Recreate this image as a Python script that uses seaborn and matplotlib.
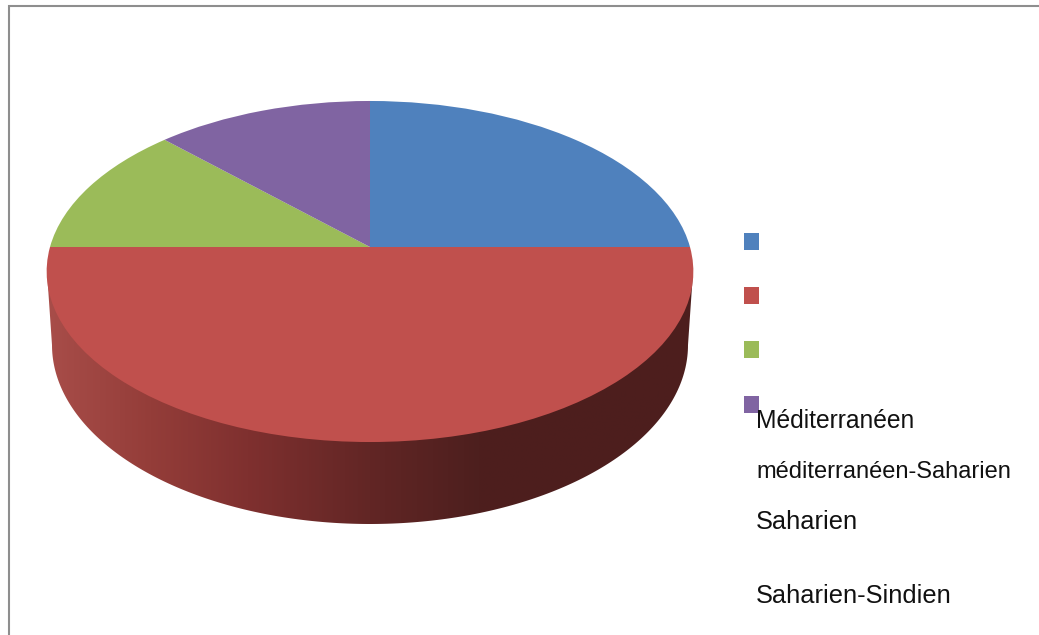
import numpy as np
import matplotlib
matplotlib.use("Agg")
import matplotlib.pyplot as plt
import seaborn as sns
from matplotlib.colors import LinearSegmentedColormap
from matplotlib.patches import Polygon, Rectangle
from matplotlib.transforms import Transform

# Data
labels = ["Méditerranéen", "méditerranéen-Saharien", "Saharien", "Saharien-Sindien"]
values = [25, 50, 12.5, 12.5]
palette = ["#4F81BD", "#C0504D", "#9BBB59", "#8064A2"]

# Styling of each text, wall shading
label_sizes = [17.7, 17.0, 18.3, 18.3]
label_baselines = [428, 478, 529, 603]
swatch_tops = [233, 287, 341, 396]
wall_stops = [(0.0, "#A84D49"), (0.16, "#943D39"), (0.31, "#7F302F"),
              (0.5, "#622625"), (0.67, "#4D1F1E"), (1.0, "#4D1E1D")]

sns.set_theme(style="white")
plt.rcParams["font.family"] = ["Liberation Sans", "DejaVu Sans"]

W, H = 1039, 635
fig = plt.figure(figsize=(W / 100, H / 100), dpi=100, facecolor="white")
ax = fig.add_axes([0, 0, 1, 1])


class Tilt(Transform):
    """Perspective view of the unit pie, in pixel coordinates of the axes."""
    input_dims = output_dims = 2
    is_separable = False

    def __init__(self, cx, cy, r, a, b):
        super().__init__()
        self.cx, self.cy, self.r, self.a, self.b = cx, cy, r, a, b

    def transform_non_affine(self, xy):
        xy = np.asarray(xy, dtype=float)
        d = 1 + self.a * xy[:, 1]
        return np.column_stack([self.cx + self.r * xy[:, 0] / d,
                                self.cy - self.b * xy[:, 1] / d])


# Wall of the disc
cx = 370
t = np.linspace(np.pi, 0, 200)
floor_x = cx + 318 * np.cos(t)
floor_y = 345 + 179 * np.sin(t)
wall_xy = np.vstack([[[47, 272]], np.column_stack([floor_x, floor_y]), [[693, 272]]])
wall = Polygon(wall_xy, closed=True, fc="none", ec="none", transform=ax.transData)
ax.add_patch(wall)
cmap = LinearSegmentedColormap.from_list("wall", wall_stops)
img = ax.imshow(np.linspace(0, 1, 512)[None, :], cmap=cmap, extent=(47, 693, 530, 260),
                aspect="auto", zorder=1, interpolation="bilinear")
img.set_clip_path(wall)

# Top face
wedges, _ = ax.pie(values, colors=palette, startangle=90, counterclock=False,
                   radius=1, center=(0, 0), wedgeprops={"linewidth": 0})
tilt = Tilt(cx, 247, 320, 49 / 341, 167)
for w in wedges:
    w.set_transform(tilt + ax.transData)
    w.set_zorder(2)
    w.set_clip_on(False)

ax.set_aspect("auto")
ax.set_xlim(0, W)
ax.set_ylim(H, 0)
ax.axis("off")

# Chart frame
ax.plot([9, 9, W], [H, 6, 6], color="#8E8E8E", lw=1.5, zorder=3, solid_joinstyle="miter")

# Legend
for top, colour in zip(swatch_tops, palette):
    ax.add_patch(Rectangle((744, top), 15, 17, fc=colour, ec="none", zorder=3))
for text, base, size in zip(labels, label_baselines, label_sizes):
    ax.text(756, base, text, fontsize=size, color="#111111", va="baseline", ha="left", zorder=4)

fig.savefig("out.png", dpi=100, facecolor="white")
